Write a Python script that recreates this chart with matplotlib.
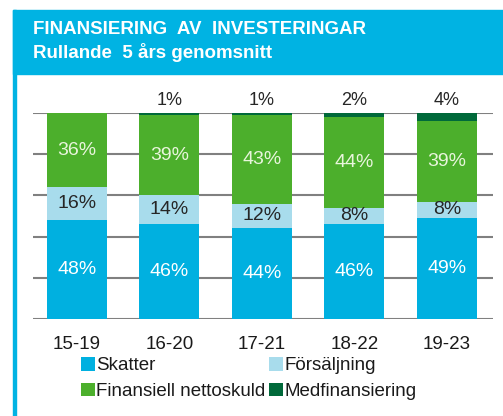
import matplotlib
matplotlib.use('Agg')
import matplotlib.pyplot as plt
from matplotlib.patches import Rectangle
import numpy as np

plt.rcParams['font.family'] = ['Liberation Sans', 'DejaVu Sans']

periods     = ['15-19', '16-20', '17-21', '18-22', '19-23']
skatter     = [48, 46, 44, 46, 49]
forsaljning = [16, 14, 12, 8, 8]
nettoskuld  = [36, 39, 43, 44, 39]
medfin      = [0, 1, 1, 2, 4]

C_HEAD  = '#00b3e3'
C_SKAT  = '#00b0e0'
C_FORS  = '#a8dcec'
C_NETTO = '#4caf2c'
C_MED   = '#00693a'

W, H = 503, 416
fig = plt.figure(figsize=(W / 100, H / 100), dpi=100)

# header band and left frame line
fig.patches.append(Rectangle((13 / W, 0), 3 / W, 1 - 10 / H,
                             transform=fig.transFigure, color=C_HEAD, zorder=0))
fig.patches.append(Rectangle((13 / W, 1 - 74 / H), 1, 64 / H,
                             transform=fig.transFigure, color=C_HEAD, zorder=0))
fig.text(33 / W, 1 - 30 / H, 'FINANSIERING  AV  INVESTERINGAR', color='white',
         fontsize=13.5, fontweight='bold', va='center', ha='left')
fig.text(33 / W, 1 - 52 / H, 'Rullande  5 års genomsnitt', color='white',
         fontsize=13.5, fontweight='bold', va='center', ha='left')

ax = fig.add_axes([33 / W, 97 / H, 460 / W, 206 / H])
x = np.arange(len(periods))
bw = 0.65

s = np.array(skatter)
f = np.array(forsaljning)
n = np.array(nettoskuld)
m = np.array(medfin)

ax.bar(x, s, bw, color=C_SKAT, zorder=2, label='Skatter')
ax.bar(x, f, bw, bottom=s, color=C_FORS, zorder=2, label='Försäljning')
ax.bar(x, n, bw, bottom=s + f, color=C_NETTO, zorder=2, label='Finansiell nettoskuld')
ax.bar(x, m, bw, bottom=s + f + n, color=C_MED, zorder=2, label='Medfinansiering')

for i in range(len(periods)):
    ax.text(x[i], s[i] / 2, f'{s[i]}%', ha='center', va='center',
            color='white', fontsize=14, zorder=3)
    ax.text(x[i], s[i] + f[i] / 2, f'{f[i]}%', ha='center', va='center',
            color='#262626', fontsize=14, zorder=3)
    ax.text(x[i], s[i] + f[i] + n[i] / 2, f'{n[i]}%', ha='center', va='center',
            color='#e8f5dc', fontsize=14, zorder=3)
    if m[i] > 0:
        ax.text(x[i], 106, f'{m[i]}%', ha='center', va='center',
                color='#262626', fontsize=13, clip_on=False, zorder=3)

ax.set_xlim(-0.476, 4.5)
ax.set_ylim(0, 100)
ax.set_yticks([0, 20, 40, 60, 80, 100])
ax.yaxis.grid(True, color='#808080', linewidth=1.5, zorder=1)
ax.tick_params(axis='y', left=False, labelleft=False)
ax.tick_params(axis='x', bottom=False, labelsize=13.5, pad=9, colors='#1a1a1a')
ax.set_xticks(x)
ax.set_xticklabels(periods)
for sp in ax.spines.values():
    sp.set_visible(False)

handles, labels = ax.get_legend_handles_labels()
order = [0, 2, 1, 3]  # fill row-wise
fig.legend([handles[i] for i in order], [labels[i] for i in order],
           loc='upper left', bbox_to_anchor=(72 / W, 1 - 348 / H),
           ncol=2, frameon=False, fontsize=13.5, handlelength=0.7, handleheight=0.7,
           handletextpad=0.1, columnspacing=0.2, labelspacing=0.45, borderpad=0,
           labelcolor='#1a1a1a')

fig.savefig('out.png', dpi=100)
